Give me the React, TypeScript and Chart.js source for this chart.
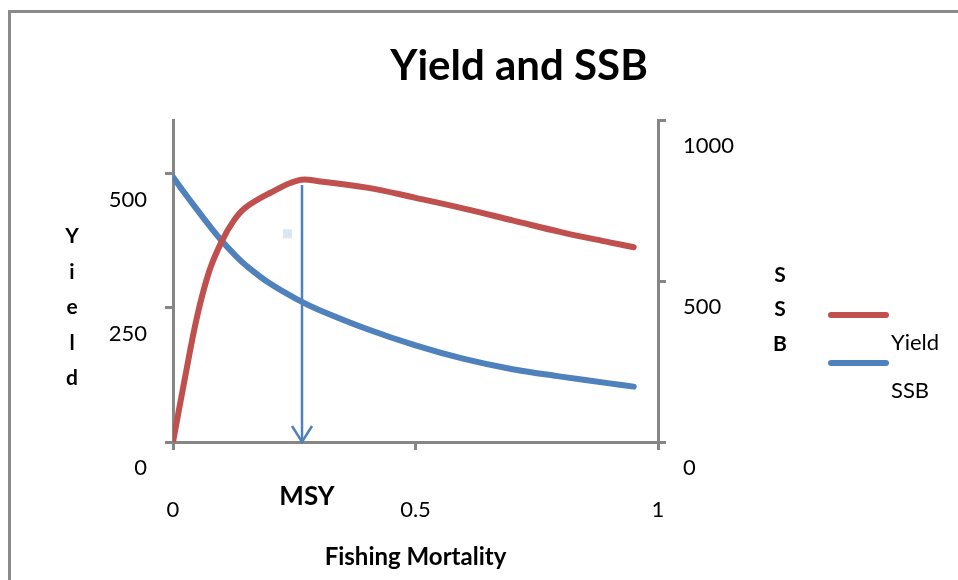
import React, { useEffect, useRef } from 'react';
import { Chart, registerables } from 'chart.js';

Chart.register(...registerables);

// ---- Data ----
const fishingMortality = [0, 0.025, 0.05, 0.075, 0.1, 0.125, 0.15, 0.2, 0.26, 0.3, 0.4, 0.5, 0.6, 0.7, 0.8, 0.9, 0.95];
const yieldValues = [0, 121, 235, 319, 373, 412, 437, 464, 488, 486, 474, 455, 435, 413, 391, 372, 363];
const ssbValues = [823, 771, 721, 672, 626, 585, 549, 492, 440, 411, 351, 300, 258, 226, 203, 182, 172];

const xTickValues = [0, 0.5, 1];
const yieldTickValues = [0, 250, 500];
const ssbTickValues = [0, 500, 1000];

const msyF = 0.266;
const msyYield = 479;
const markerX = [0.236];
const markerY = [388];

const chartTitle = 'Yield and SSB';
const xTitle = 'Fishing Mortality';
const leftTitle = 'Yield';
const rightTitle = 'SSB';
const msyLabel = 'MSY';

const FONT = 'Lato, "Liberation Sans", sans-serif';
const AXIS_COLOR = '#868686';
const RED = '#C0504D';
const BLUE = '#4F81BD';

const decorPlugin = {
  id: 'decor',
  beforeDraw(chart: any) {
    const ctx = chart.ctx;
    ctx.save();
    ctx.fillStyle = '#ffffff';
    ctx.fillRect(0, 0, chart.width, chart.height);
    ctx.strokeStyle = '#8a8a8a';
    ctx.lineWidth = 3;
    ctx.beginPath();
    ctx.moveTo(9.5, chart.height + 2);
    ctx.lineTo(9.5, 11.5);
    ctx.lineTo(chart.width + 2, 11.5);
    ctx.stroke();
    ctx.restore();
  },
  afterDatasetsDraw(chart: any) {
    const ctx = chart.ctx;
    const xs = chart.scales.x;
    const yl = chart.scales.yLeft;
    const ax = xs.getPixelForValue(msyF);
    const top = yl.getPixelForValue(msyYield);
    const bot = yl.getPixelForValue(0);
    ctx.save();
    ctx.strokeStyle = BLUE;
    ctx.lineWidth = 2.5;
    ctx.beginPath();
    ctx.moveTo(ax, top);
    ctx.lineTo(ax, bot);
    ctx.stroke();
    ctx.beginPath();
    ctx.moveTo(ax - 10, bot - 16);
    ctx.lineTo(ax, bot);
    ctx.lineTo(ax + 10, bot - 16);
    ctx.stroke();
    ctx.restore();
  },
  afterDraw(chart: any) {
    const ctx = chart.ctx;
    ctx.save();
    ctx.fillStyle = '#000000';
    ctx.textAlign = 'center';
    ctx.textBaseline = 'alphabetic';
    // chart title
    ctx.font = `bold 42px ${FONT}`;
    ctx.fillText(chartTitle, 519, 80);
    // stacked axis titles
    ctx.font = `bold 21px ${FONT}`;
    leftTitle.split('').forEach((ch, i) => ctx.fillText(ch, 72, 243 + i * 35.5));
    rightTitle.split('').forEach((ch, i) => ctx.fillText(ch, 780, 281.5 + i * 34.5));
    // MSY label
    ctx.font = `bold 26px ${FONT}`;
    ctx.fillText(msyLabel, 307, 505);
    // legend
    const ds = chart.data.datasets.slice(0, 2);
    const rows = [315, 363];
    ctx.font = `22px ${FONT}`;
    ctx.textAlign = 'left';
    ds.forEach((d: any, i: number) => {
      ctx.strokeStyle = d.borderColor;
      ctx.lineWidth = 6;
      ctx.lineCap = 'round';
      ctx.beginPath();
      ctx.moveTo(831, rows[i]);
      ctx.lineTo(886, rows[i]);
      ctx.stroke();
      ctx.fillText(d.label, 891, rows[i] + 35);
    });
    ctx.restore();
  },
};

const tickFont = { family: FONT, size: 22 };
const gridOpts = { drawOnChartArea: false, drawTicks: true, tickLength: 8, color: AXIS_COLOR, lineWidth: 3 };
const borderOpts = { display: true, color: AXIS_COLOR, width: 3 };

export default function App() {
  const canvasRef = useRef<HTMLCanvasElement | null>(null);

  useEffect(() => {
    document.body.style.margin = '0';
    const canvas = canvasRef.current;
    if (!canvas) return;
    const chart = new Chart(canvas, {
      type: 'line',
      data: {
        datasets: [
          {
            label: 'Yield',
            data: fishingMortality.map((f, i) => ({ x: f, y: yieldValues[i] })),
            yAxisID: 'yLeft',
            borderColor: RED,
            backgroundColor: RED,
            borderWidth: 6,
            pointRadius: 0,
            tension: 0.4,
            borderCapStyle: 'round',
            borderJoinStyle: 'round',
          },
          {
            label: 'SSB',
            data: fishingMortality.map((f, i) => ({ x: f, y: ssbValues[i] })),
            yAxisID: 'yRight',
            borderColor: BLUE,
            backgroundColor: BLUE,
            borderWidth: 6,
            pointRadius: 0,
            tension: 0.4,
            borderCapStyle: 'round',
            borderJoinStyle: 'round',
          },
          {
            label: 'marker',
            type: 'scatter',
            data: markerX.map((x, i) => ({ x, y: markerY[i] })),
            yAxisID: 'yLeft',
            pointStyle: 'rect',
            pointRadius: 6.4,
            backgroundColor: '#DCE6F2',
            borderWidth: 0,
            showLine: false,
          },
        ],
      } as any,
      options: {
        responsive: false,
        animation: false,
        layout: { padding: { top: 120, left: 0, right: 0, bottom: 0 } },
        plugins: {
          legend: { display: false },
          title: { display: false },
          tooltip: { enabled: false },
        },
        scales: {
          x: {
            type: 'linear',
            position: 'bottom',
            min: 0,
            max: 1,
            afterBuildTicks: (s: any) => { s.ticks = xTickValues.map((v) => ({ value: v })); },
            afterFit: (s: any) => { s.height = 138; },
            ticks: { font: tickFont, color: '#000', padding: 47, maxRotation: 0, callback: (v: any) => String(v) },
            grid: gridOpts,
            border: borderOpts,
            title: {
              display: true,
              text: xTitle,
              color: '#000',
              font: { family: FONT, size: 24, weight: 'bold' },
              padding: { top: 0, bottom: 8 },
            },
          },
          yLeft: {
            type: 'linear',
            position: 'left',
            min: 0,
            max: 600,
            afterBuildTicks: (s: any) => { s.ticks = yieldTickValues.map((v) => ({ value: v })); },
            afterFit: (s: any) => { s.width = 173; },
            ticks: { font: tickFont, color: '#000', padding: 18, labelOffset: 26, callback: (v: any) => String(v) },
            grid: gridOpts,
            border: borderOpts,
          },
          yRight: {
            type: 'linear',
            position: 'right',
            min: 0,
            max: 1000,
            afterBuildTicks: (s: any) => { s.ticks = ssbTickValues.map((v) => ({ value: v })); },
            afterFit: (s: any) => { s.width = 300; },
            ticks: { font: tickFont, color: '#000', padding: 17, labelOffset: 26, callback: (v: any) => String(v) },
            grid: gridOpts,
            border: borderOpts,
          },
        },
      } as any,
      plugins: [decorPlugin],
    });
    return () => chart.destroy();
  }, []);

  return (
    <div style={{ position: 'absolute', left: 0, top: 0, width: 958, height: 580 }}>
      <canvas ref={canvasRef} width={958} height={580} style={{ display: 'block' }} />
    </div>
  );
}
